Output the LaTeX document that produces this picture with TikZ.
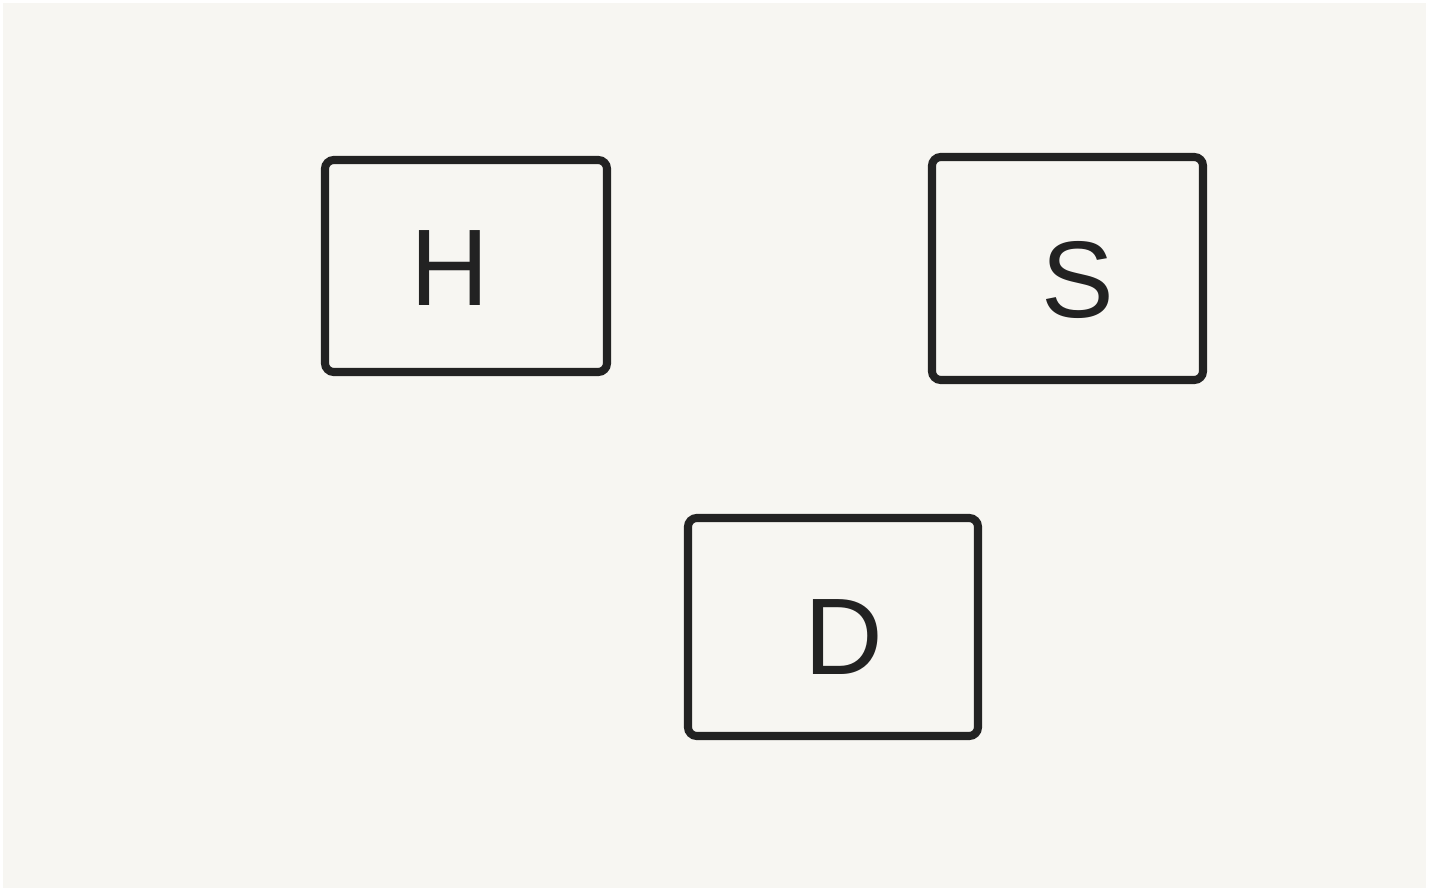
\documentclass[tikz,border=0pt]{standalone}
\usepackage{fontspec}
\setmainfont{Liberation Sans}
\usetikzlibrary{positioning,calc}
\definecolor{paperbg}{HTML}{F7F6F2}
\definecolor{inkblack}{HTML}{222222}

\begin{document}
\begin{tikzpicture}[
  sketchbox/.style={
    draw=inkblack,
    line width=2.3pt,
    rounded corners=2.5pt,
    line cap=round,
    inner sep=0pt
  },
  sketchletter/.style={
    text=inkblack,
    inner sep=0pt,
    font=\fontsize{31}{36}\selectfont
  }
]

  % paper
  \fill[white] (0,0) rectangle (14.34,8.91);
  \fill[paperbg] (0.03,0.03) rectangle (14.26,8.88);
  \useasboundingbox (0,0) rectangle (14.34,8.91);

  % --- the three boxes ---
  \node[sketchbox, minimum width=2.82cm, minimum height=2.12cm] (hbox) at (4.66,6.25) {};
  \node[sketchbox, minimum width=2.71cm, minimum height=2.23cm] (sbox) at (10.675,6.225) {};
  \node[sketchbox, minimum width=2.90cm, minimum height=2.18cm] (dbox) at (8.33,2.64) {};

  % --- letters ---
  \node[sketchletter] (hlabel) at ($(hbox.center)+(-0.16,-0.02)$) {H};
  \node[sketchletter] (slabel) at ($(sbox.center)+(0.10,-0.11)$) {S};
  \node[sketchletter] (dlabel) at ($(dbox.center)+(0.11,-0.10)$) {D};

\end{tikzpicture}
\end{document}
